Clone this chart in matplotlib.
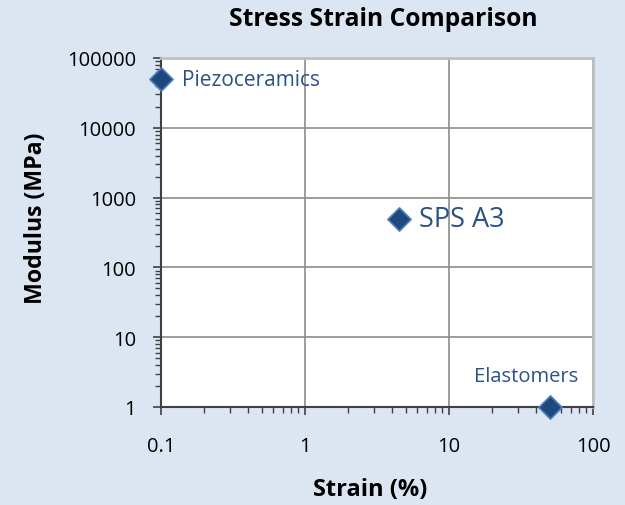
import matplotlib.pyplot as plt
from matplotlib.ticker import LogLocator, FixedLocator, FixedFormatter, NullFormatter

# data
names = ["Piezoceramics", "SPS A3", "Elastomers"]
strain = [0.1, 4.5, 50]
modulus = [50000, 500, 1]

x_ticks = [0.1, 1, 10, 100]
x_labels = ["0.1", "1", "10", "100"]
y_ticks = [1, 10, 100, 1000, 10000, 100000]
y_labels = ["1", "10", "100", "1000", "10000", "100000"]

plt.rcParams["font.family"] = ["Open Sans", "DejaVu Sans"]

bg = "#dce6f2"
navy = "#1f497d"
text_col = "#2a5287"

fig = plt.figure(figsize=(6.25, 5.06), dpi=100, facecolor=bg)
ax = fig.add_axes([161 / 625, 1 - 408 / 506, (593 - 161) / 625, (408 - 59) / 506])
ax.set_xscale("log")
ax.set_yscale("log")
ax.set_xlim(0.1, 100)
ax.set_ylim(1, 100000)

ax.grid(True, which="major", color="#8c8c8c", linewidth=1.2)
ax.set_axisbelow(True)

ax.scatter(strain, modulus, marker="D", s=140, color=navy, edgecolor="#4f81bd",
           linewidth=1.2, zorder=5, clip_on=False)

label_offsets = [(15, 0, "left", 15), (14, 0, "left", 19.5), (-17, 22, "center", 14.5)]
for n, x, y, (dx, dy, ha, fs) in zip(names, strain, modulus, label_offsets):
    ax.annotate(n, (x, y), xytext=(dx, dy), textcoords="offset points",
                ha=ha, va="center", fontsize=fs, color=text_col, zorder=6)

ax.xaxis.set_major_locator(FixedLocator(x_ticks))
ax.xaxis.set_major_formatter(FixedFormatter(x_labels))
ax.yaxis.set_major_locator(FixedLocator(y_ticks))
ax.yaxis.set_major_formatter(FixedFormatter(y_labels))
ax.xaxis.set_minor_locator(LogLocator(base=10, subs=range(2, 10)))
ax.yaxis.set_minor_locator(LogLocator(base=10, subs=range(2, 10)))
ax.xaxis.set_minor_formatter(NullFormatter())
ax.yaxis.set_minor_formatter(NullFormatter())

ax.tick_params(which="major", direction="out", length=6, width=1.2, color="#404040",
               labelsize=14.5)
ax.tick_params(axis="x", which="major", pad=15)
ax.tick_params(axis="y", which="major", pad=12)
ax.tick_params(which="minor", direction="out", length=4, width=1.0, color="#404040")

for side in ["top", "right"]:
    ax.spines[side].set_color("#bfbfbf")
    ax.spines[side].set_linewidth(2)
for side in ["left", "bottom"]:
    ax.spines[side].set_color("#404040")
    ax.spines[side].set_linewidth(1.5)

fig.text(383 / 625, 1 - 20 / 506, "Stress Strain Comparison", ha="center", va="center",
         fontsize=17.7, fontweight="bold")
fig.text(370 / 625, 1 - 490 / 506, "Strain (%)", ha="center", va="center",
         fontsize=17, fontweight="bold")
fig.text(36 / 625, 1 - 218 / 506, "Modulus (MPa)", ha="center", va="center",
         rotation=90, fontsize=16.7, fontweight="bold")

fig.savefig("out.png", dpi=100, facecolor=bg)
